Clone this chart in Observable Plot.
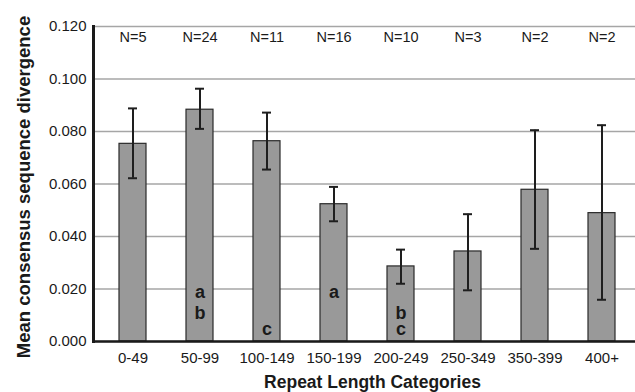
<!DOCTYPE html>
<html>
<head>
<meta charset="utf-8">
<script src="https://cdn.jsdelivr.net/npm/d3@7"></script>
<script src="https://cdn.jsdelivr.net/npm/@observablehq/plot@0.6"></script>
<style>
  html, body { margin: 0; padding: 0; background: #fff; }
</style>
</head>
<body>
<div id="chart"></div>
<script>
const categories = ["0-49", "50-99", "100-149", "150-199", "200-249", "250-349", "350-399", "400+"];
const means = [0.0753, 0.0883, 0.0763, 0.0523, 0.0286, 0.0343, 0.0578, 0.0489];
const upper = [0.0888, 0.0963, 0.0872, 0.0589, 0.0350, 0.0485, 0.0805, 0.0824];
const lower = [0.0622, 0.0810, 0.0655, 0.0458, 0.0220, 0.0195, 0.0353, 0.0159];
const counts = [5, 24, 11, 16, 10, 3, 2, 2];
const groupLetters = ["", "ab", "c", "a", "bc", "", "", ""];
const yTicks = [0, 0.02, 0.04, 0.06, 0.08, 0.10, 0.12];
const xTitle = "Repeat Length Categories";
const yTitle = "Mean consensus sequence divergence";

const data = categories.map((c, i) => ({cat: c, mean: means[i], hi: upper[i], lo: lower[i], n: counts[i]}));
const letters = categories.flatMap((c, i) => groupLetters[i].split("").map(l => ({cat: c, letter: l})));
const letterOffset = {a: -44, b: -23, c: -7};

const font = "'Liberation Sans', Arial, Helvetica, sans-serif";
const ink = "#1a1a1a";

const chart = Plot.plot({
  width: 635,
  height: 392,
  marginLeft: 93,
  marginRight: 0,
  marginTop: 26,
  marginBottom: 51,
  style: {fontFamily: font, background: "#fff", color: ink},
  x: {domain: categories, range: [96, 638.5], paddingInner: 0.6, paddingOuter: 0.3, align: 0.5, label: null},
  y: {domain: [0, 0.12], label: null},
  marks: [
    Plot.gridY(yTicks, {stroke: "#a6a6a6", strokeOpacity: 1, strokeWidth: 1.5}),
    Plot.barY(data, {x: "cat", y: "mean", fill: "#999999", stroke: "#2a2a2a", strokeWidth: 1.2}),
    Plot.ruleX(data, {x: "cat", y1: "lo", y2: "hi", stroke: "#1e1e1e", strokeWidth: 2}),
    Plot.tickY(data, {x: "cat", y: "hi", stroke: "#1e1e1e", strokeWidth: 2, insetLeft: 9, insetRight: 9}),
    Plot.tickY(data, {x: "cat", y: "lo", stroke: "#1e1e1e", strokeWidth: 2, insetLeft: 9, insetRight: 9}),
    ...["a", "b", "c"].map(l => Plot.text(letters.filter(d => d.letter === l), {
      x: "cat", y: () => 0, text: "letter", dy: letterOffset[l],
      lineAnchor: "bottom", fontSize: 18, fontWeight: "bold", fill: ink
    })),
    Plot.text(data, {x: "cat", frameAnchor: "top", text: d => `N=${d.n}`, lineAnchor: "bottom", dy: 15, fontSize: 14.5, fill: ink}),
    Plot.axisY({ticks: yTicks, tickFormat: d3.format(".3f"), tickSize: 0, tickPadding: 7, fontSize: 15, label: null}),
    Plot.axisX({tickSize: 0, tickPadding: 11, fontSize: 15, label: null}),
    Plot.frame({anchor: "left", stroke: ink, strokeWidth: 3}),
    Plot.ruleY([0], {stroke: ink, strokeWidth: 2.5}),
    Plot.text([yTitle], {frameAnchor: "left", dx: -69, dy: 3, rotate: -90, text: d => d, fontSize: 18.5, fontWeight: "bold", lineAnchor: "middle", textAnchor: "middle", fill: ink}),
    Plot.text([xTitle], {frameAnchor: "bottom", dy: 41, dx: 8, text: d => d, fontSize: 17.5, fontWeight: "bold", lineAnchor: "middle", fill: ink})
  ]
});
document.getElementById("chart").appendChild(chart);
</script>
</body>
</html>
